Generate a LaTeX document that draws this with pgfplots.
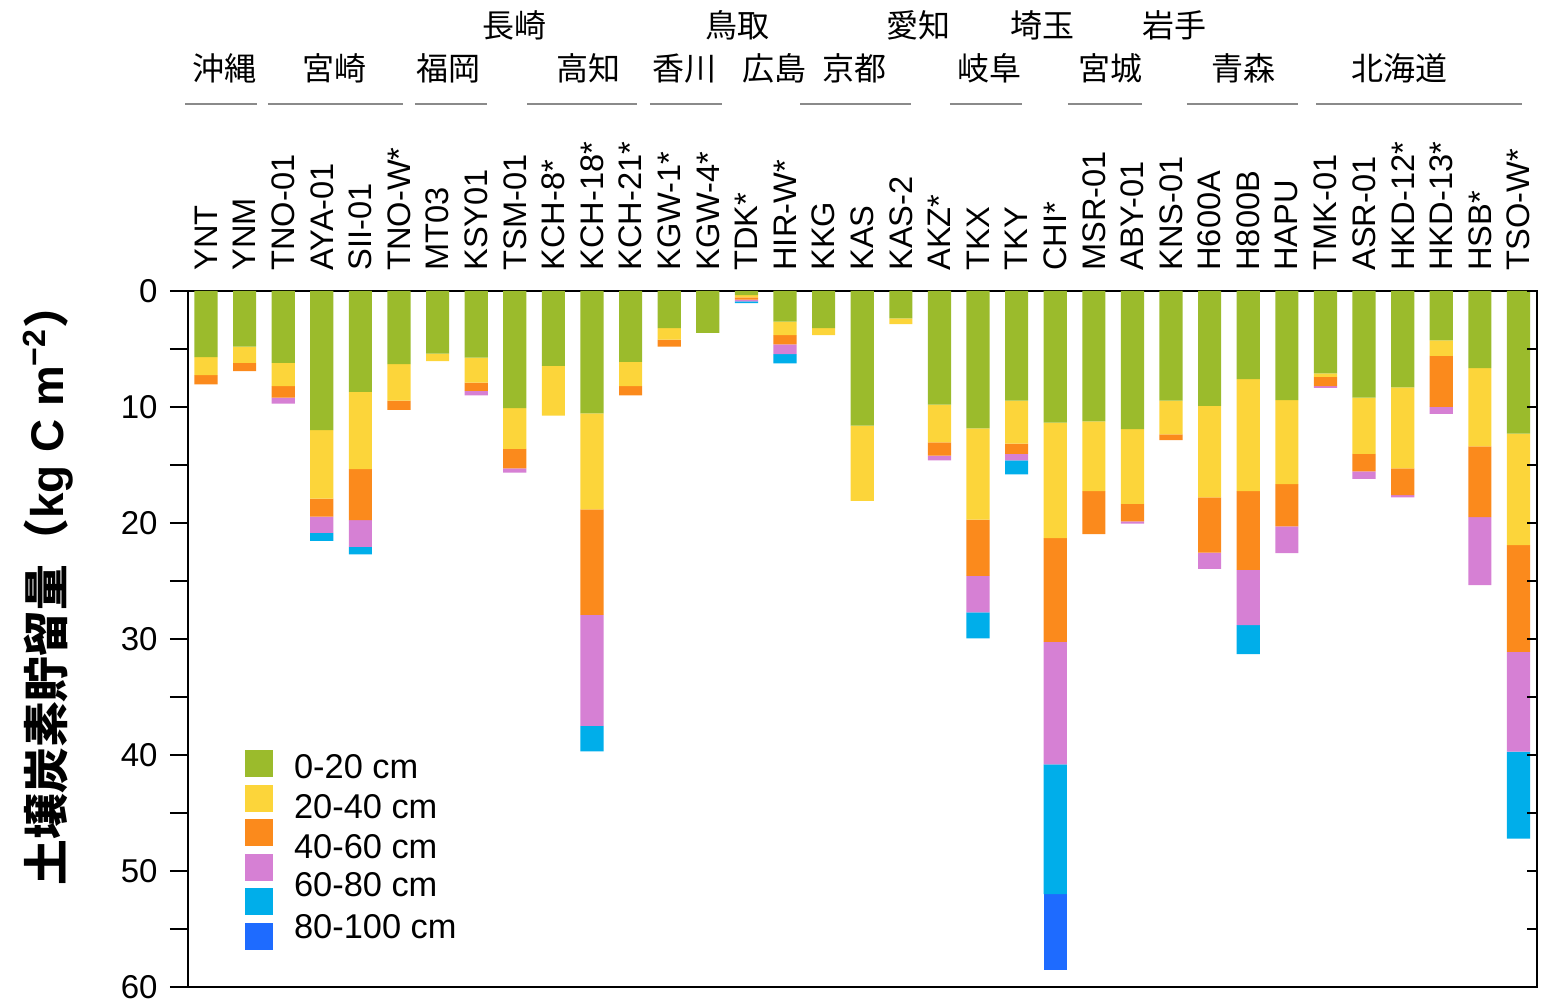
\documentclass[border=0pt]{standalone}
\usepackage{pgfplots}
\pgfplotsset{compat=1.18}
\usepackage{pgfplotstable}
\usepackage{fontspec}
\setmainfont{Liberation Sans}
\newfontfamily\cjk{Noto Sans CJK JP}
\definecolor{cG}{HTML}{9BBB2C}
\definecolor{cY}{HTML}{FCD53A}
\definecolor{cO}{HTML}{FB8A1C}
\definecolor{cP}{HTML}{D680D4}
\definecolor{cB}{HTML}{00AEEA}
\definecolor{cD}{HTML}{1E6BFF}
\definecolor{grp}{HTML}{8A8A8A}

\pgfplotstableread{
x  g     y     o     p     b     d
0  5.70  1.55  0.80  0     0     0
1  4.80  1.40  0.70  0     0     0
2  6.20  2.00  1.00  0.50  0     0
3  12.00 5.90  1.55  1.40  0.70  0
4  8.70  6.65  4.40  2.30  0.65  0
5  6.30  3.15  0.80  0     0     0
6  5.40  0.65  0     0     0     0
7  5.75  2.15  0.70  0.40  0     0
8  10.10 3.50  1.70  0.35  0     0
9  6.45  4.30  0     0     0     0
10 10.55 8.27  9.10  9.57  2.20  0
11 6.10  2.10  0.80  0     0     0
12 3.20  1.00  0.60  0     0     0
13 3.60  0     0     0     0     0
14 0.35  0.20  0.20  0.15  0.15  0
15 2.65  1.15  0.80  0.85  0.80  0
16 3.20  0.60  0     0     0     0
17 11.60 6.50  0     0     0     0
18 2.35  0.50  0     0     0     0
19 9.80  3.25  1.15  0.40  0     0
20 11.85 7.85  4.85  3.15  2.25  0
21 9.45  3.70  0.90  0.55  1.20  0
22 11.35 9.95  8.95  10.55 11.20 6.55
23 11.25 6.00  3.70  0     0     0
24 11.90 6.45  1.50  0.20  0     0
25 9.45  2.90  0.50  0     0     0
26 9.90  7.90  4.75  1.40  0     0
27 7.60  9.65  6.80  4.75  2.50  0
28 9.40  7.25  3.65  2.30  0     0
29 7.10  0.30  0.80  0.15  0     0
30 9.20  4.85  1.50  0.65  0     0
31 8.30  7.00  2.30  0.20  0     0
32 4.25  1.35  4.40  0.60  0     0
33 6.65  6.75  6.10  5.85  0     0
34 12.30 9.60  9.20  8.60  7.50  0
}\data

\pgfplotsset{sq/.style={legend image code/.code={\fill[##1] (0pt,-6.75pt) rectangle (14pt,6.75pt);}}}
\tikzset{gl/.style={draw=grp, line width=1.1pt},
  pl/.style={inner sep=0pt, anchor=center, font=\cjk\fontsize{16}{19}\selectfont, text height=0.88em, text depth=0.12em}}
\newcommand{\legtxt}[2]{\smash{\raisebox{-#1}{#2}}}

\begin{document}
\begin{tikzpicture}
\begin{axis}[name=ax,
  width=674.5pt, height=348pt, scale only axis,
  xmin=-0.466, xmax=34.48, ymin=0, ymax=60, y dir=reverse,
  ybar stacked, bar width=0.6,
  clip=false,
  axis line style={line width=1.2pt},
  xtick={0,...,34},
  xticklabels={YNT,YNM,TNO-01,AYA-01,SII-01,TNO-W*,MT03,KSY01,TSM-01,KCH-8*,KCH-18*,KCH-21*,KGW-1*,KGW-4*,TDK*,HIR-W*,KKG,KAS,KAS-2,AKZ*,TKX,TKY,CHI*,MSR-01,ABY-01,KNS-01,H600A,H800B,HAPU,TMK-01,ASR-01,HKD-12*,HKD-13*,HSB*,TSO-W*},
  xticklabel pos=upper,
  xtick style={draw=none},
  xticklabel style={rotate=90, anchor=west, inner sep=0pt, font=\fontsize{16.3}{19}\selectfont},
  xticklabel shift=1pt,
  ytick={0,10,...,60},
  minor ytick={5,15,...,55},
  ytick pos=left,
  tick align=outside,
  major tick length=9pt, minor tick length=9pt,
  ytick style={black, line width=1.2pt},
  yticklabel style={inner sep=0pt, font=\fontsize{16.5}{19}\selectfont},
  yticklabel shift=6pt,
  /pgf/number format/assume math mode=true,
  legend style={at={(axis description cs:0.0423,0.3405)}, anchor=north west, draw=none, fill=none,
    inner sep=0pt, outer sep=0pt, font=\fontsize{17.2}{20}\selectfont,
    row sep=3.75pt, /tikz/every odd column/.append style={column sep=8.5pt}},
  legend cell align=left,
]
\addplot[fill=cG, draw=none, sq] table[x=x,y=g]{\data};
\addlegendentry{\legtxt{8pt}{0-20 cm}}
\addplot[fill=cY, draw=none, sq] table[x=x,y=y]{\data};
\addlegendentry{\legtxt{11pt}{20-40 cm}}
\addplot[fill=cO, draw=none, sq] table[x=x,y=o]{\data};
\addlegendentry{\legtxt{13.5pt}{40-60 cm}}
\addplot[fill=cP, draw=none, sq] table[x=x,y=p]{\data};
\addlegendentry{\legtxt{15.5pt}{60-80 cm}}
\addplot[fill=cB, draw=none, sq] table[x=x,y=b]{\data};
\addlegendentry{\legtxt{19pt}{80-100 cm}}
\addplot[fill=cD, draw=none, sq] table[x=x,y=d]{\data};
\addlegendentry{}

\draw[gl] (axis cs:-0.54,-16.12) -- (axis cs:1.32,-16.12);
\draw[gl] (axis cs:1.60,-16.12) -- (axis cs:5.10,-16.12);
\draw[gl] (axis cs:5.41,-16.12) -- (axis cs:7.28,-16.12);
\draw[gl] (axis cs:8.32,-16.12) -- (axis cs:11.17,-16.12);
\draw[gl] (axis cs:11.50,-16.12) -- (axis cs:13.37,-16.12);
\draw[gl] (axis cs:15.39,-16.12) -- (axis cs:18.26,-16.12);
\draw[gl] (axis cs:19.27,-16.12) -- (axis cs:21.14,-16.12);
\draw[gl] (axis cs:22.33,-16.12) -- (axis cs:24.25,-16.12);
\draw[gl] (axis cs:25.41,-16.12) -- (axis cs:28.29,-16.12);
\draw[gl] (axis cs:28.76,-16.12) -- (axis cs:34.09,-16.12);

\node[pl] at (axis cs:0.49,-18.77) {沖縄};
\node[pl] at (axis cs:3.34,-18.77) {宮崎};
\node[pl] at (axis cs:6.27,-18.77) {福岡};
\node[pl] at (axis cs:9.90,-18.77) {高知};
\node[pl] at (axis cs:12.40,-18.77) {香川};
\node[pl] at (axis cs:14.74,-18.77) {広島};
\node[pl] at (axis cs:16.81,-18.77) {京都};
\node[pl] at (axis cs:20.30,-18.77) {岐阜};
\node[pl] at (axis cs:23.42,-18.77) {宮城};
\node[pl] at (axis cs:26.87,-18.77) {青森};
\node[pl] at (axis cs:30.93,-18.77) {北海道};
\node[pl] at (axis cs:8.00,-22.47) {長崎};
\node[pl] at (axis cs:13.78,-22.47) {鳥取};
\node[pl] at (axis cs:18.45,-22.47) {愛知};
\node[pl] at (axis cs:21.66,-22.47) {埼玉};
\node[pl] at (axis cs:25.10,-22.47) {岩手};

\node[rotate=90, anchor=center, inner sep=0pt, font=\fontsize{22.9}{27}\selectfont\bfseries]
  at (axis description cs:-0.104,0.579) {{\cjk 土壌炭素貯留量（}kg C m\textsuperscript{−2}{\cjk ）}};
\end{axis}

\begin{axis}[at={(ax.south west)}, anchor=south west,
  width=674.5pt, height=348pt, scale only axis,
  xmin=-0.466, xmax=34.48, ymin=0, ymax=60, y dir=reverse,
  axis x line=none, axis y line*=right,
  y axis line style={line width=1.2pt},
  ytick={0,10,...,60}, minor ytick={5,15,...,55}, yticklabels={},
  tick align=inside, major tick length=5pt, minor tick length=5pt,
  ytick style={black, line width=1.2pt},
]
\addplot[draw=none] coordinates {(0,0)};
\end{axis}

\pgfresetboundingbox
\path ([shift={(-94pt,-9pt)}]ax.south west) rectangle ([shift={(3.5pt,145.5pt)}]ax.north east);
\end{tikzpicture}
\end{document}
